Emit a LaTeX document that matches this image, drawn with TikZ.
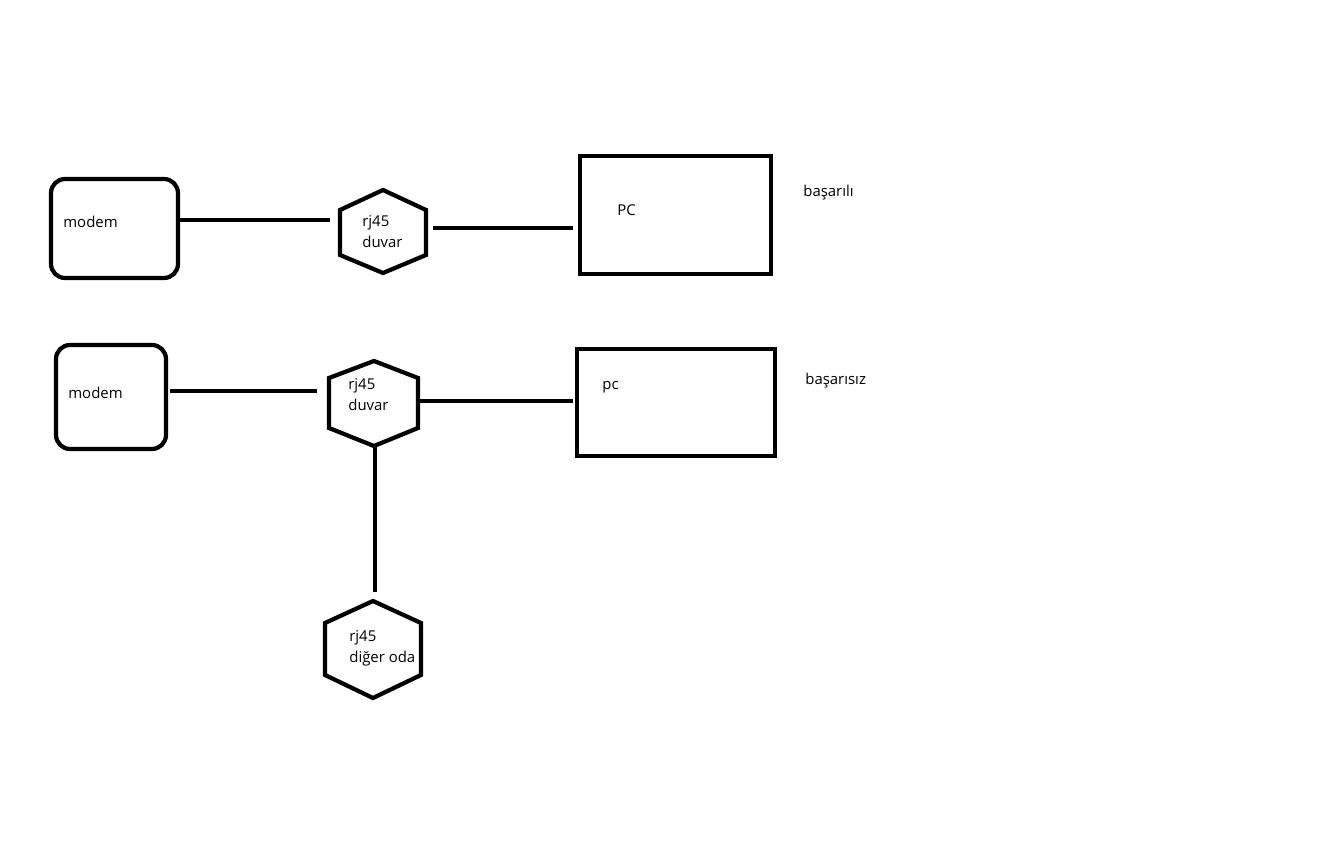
\documentclass[tikz,border=0pt]{standalone}
\usepackage{fontspec}
\setmainfont{Open Sans}
\usetikzlibrary{positioning}
\begin{document}
\begin{tikzpicture}[
  x=0.02cm, y=-0.02cm,
  box/.style={line width=2.4pt},
  wire/.style={line width=2.4pt},
  lbl/.style={anchor=west,inner sep=0pt,font=\fontsize{8.5}{12}\selectfont,align=left}
]
\useasboundingbox (0,0) rectangle (1330,864);
% first row
\draw[box,rounded corners=8pt] (51,179) rectangle (178,278);
\node[lbl] (modemA) at (63,222) {modem};
\draw[box] (383,190) -- (426,210) -- (426,255) -- (383,273) -- (340,255) -- (340,210) -- cycle;
\node[lbl] (rjA) at (362,232) {rj45\\duvar};
\draw[box] (580,156) rectangle (771,274);
\node[lbl] (pcA) at (617,210) {PC};
\node[lbl] (okA) at (803,193) {başarılı};
\coordinate (mA) at (180,220); \coordinate (hAl) at (330,220);
\coordinate (hAr) at (433,228); \coordinate (pA) at (573,228);
\draw[wire] (mA) -- (hAl);
\draw[wire] (hAr) -- (pA);
% second row
\draw[box,rounded corners=8pt] (56,345) rectangle (166,449);
\node[lbl] (modemB) at (68,393) {modem};
\draw[box] (374,361) -- (418,378) -- (418,428) -- (374,446) -- (329,428) -- (329,378) -- cycle;
\node[lbl] (rjB) at (348,395) {rj45\\duvar};
\draw[box] (577,349) rectangle (775,456);
\node[lbl] (pcB) at (602,387) {pc};
\node[lbl] (failB) at (805,381) {başarısız};
\draw[box] (373,601) -- (421,623) -- (421,675) -- (373,698) -- (325,675) -- (325,623) -- cycle;
\node[lbl] (rjC) at (349,648) {rj45\\diğer oda};
\coordinate (mB) at (170,391); \coordinate (hBl) at (317,391);
\coordinate (hBr) at (420,401); \coordinate (pB) at (573,401);
\coordinate (hBb) at (375,446); \coordinate (hCt) at (375,592);
\draw[wire] (mB) -- (hBl);
\draw[wire] (hBr) -- (pB);
\draw[wire] (hBb) -- (hCt);
\end{tikzpicture}
\end{document}
